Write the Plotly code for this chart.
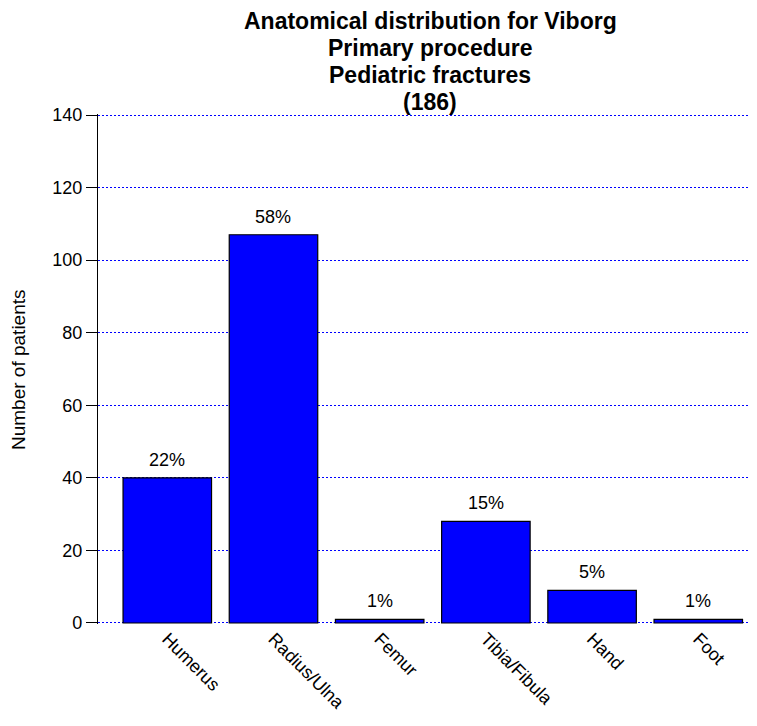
import plotly.graph_objects as go

categories = ["Humerus", "Radius/Ulna", "Femur", "Tibia/Fibula", "Hand", "Foot"]
patients = [40, 107, 1, 28, 9, 1]
title_lines = ["Anatomical distribution for Viborg", "Primary procedure", "Pediatric fractures", "(186)"]
y_ticks = [0, 20, 40, 60, 80, 100, 120, 140]

total = sum(patients)
pct_labels = [f"{round(v / total * 100)}%" for v in patients]

# page has an 8px body margin; figure coordinates below are page coords minus 8
W, H = 749, 718
L, R, T, B = 90, 0, 106, 102
plot_h = H - T - B
plot_w = W - L - R

FONT = "Liberation Sans, Arial, Helvetica, sans-serif"

fig = go.Figure()
fig.add_trace(go.Bar(
    x=categories, y=patients,
    marker=dict(color="#0000FF", line=dict(color="black", width=1.2)),
    hoverinfo="skip",
))

annotations = []
for c, v, lab in zip(categories, patients, pct_labels):
    annotations.append(dict(x=c, y=v, xref="x", yref="y", text=lab, showarrow=False,
                            yanchor="bottom", yshift=6, font=dict(size=18, color="black", family=FONT)))

title_y = [13, 40, 67, 94]
for line, py in zip(title_lines, title_y):
    annotations.append(dict(x=(422 - L) / plot_w, y=(H - B - py) / plot_h, xref="paper", yref="paper",
                            text=f"<b>{line}</b>", showarrow=False, xanchor="center", yanchor="middle",
                            borderpad=0, borderwidth=0,
                            font=dict(size=23, color="black", family=FONT)))

annotations.append(dict(x=(10 - L) / plot_w, y=(H - B - 362) / plot_h, xref="paper", yref="paper",
                        text="Number of patients", textangle=-90, showarrow=False,
                        xanchor="center", yanchor="middle",
                        font=dict(size=19, color="black", family=FONT)))

fig.update_layout(
    width=W, height=H,
    margin=dict(l=L, r=R, t=T, b=B, pad=0),
    plot_bgcolor="white", paper_bgcolor="white",
    showlegend=False,
    bargap=1 - 1 / 1.2,
    font=dict(family=FONT, color="black"),
    annotations=annotations,
)
fig.update_xaxes(
    type="category", range=[-0.6525, 5.553],
    showgrid=False, showline=False, zeroline=False, ticks="",
    tickangle=45, tickfont=dict(size=18, color="black", family=FONT),
)
fig.update_yaxes(
    range=[-0.28, 140.28], tickvals=y_ticks,
    showline=True, linecolor="black", linewidth=1.2,
    ticks="outside", ticklen=11, tickwidth=1.2, tickcolor="black",
    showgrid=True, gridcolor="#0000FF", gridwidth=1, griddash="2px,2px",
    zeroline=False, tickfont=dict(size=18, color="black", family=FONT),
)

fig.write_html("out.html")
